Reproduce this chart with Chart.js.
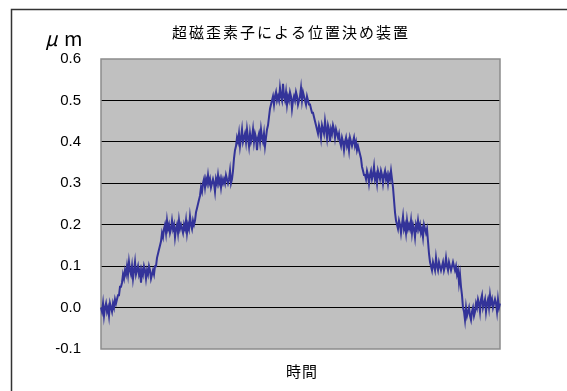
<!DOCTYPE html>
<html lang="ja">
<head>
<meta charset="UTF-8">
<title>超磁歪素子による位置決め装置</title>
<script src="https://cdn.jsdelivr.net/npm/chart.js"></script>
<style>
  html, body { margin: 0; padding: 0; background: #fff; }
  canvas { display: block; }
</style>
</head>
<body>
<canvas id="posChart" width="567" height="391"></canvas>
<script>
    // texts
    const chartTitle = '超磁歪素子による位置決め装置';
    const yUnitMu = 'μ';
    const yUnitM = 'm';
    const xTitle = '時間';
    const yTicks = [-0.1, 0.0, 0.1, 0.2, 0.3, 0.4, 0.5, 0.6];

    const hold0 = [0, -0.01, 0.01, -0.02, 0, 0.01, -0.01, 0, -0.02, 0.01, 0, -0.01, 0.01, 0, 0.02, 0.01];
    const up1 = [0.02, 0.03, 0.03, 0.05, 0.05, 0.06, 0.08, 0.07];
    const hold1 = [0.09, 0.08, 0.10, 0.08, 0.11, 0.09, 0.08, 0.10, 0.07, 0.09, 0.11, 0.08, 0.09, 0.10, 0.08, 0.09,
                   0.06, 0.09, 0.08, 0.10, 0.09, 0.07, 0.09, 0.08, 0.10, 0.09, 0.07, 0.08, 0.09, 0.08, 0.10];
    const up2 = [0.10, 0.12, 0.13, 0.14, 0.15, 0.16, 0.18, 0.17];
    const hold2 = [0.19, 0.20, 0.18, 0.21, 0.19, 0.20, 0.18, 0.19, 0.21, 0.19, 0.20, 0.17, 0.19, 0.20, 0.18, 0.21,
                   0.19, 0.20, 0.19, 0.18, 0.20, 0.19, 0.21, 0.18, 0.20, 0.19, 0.22, 0.20, 0.19, 0.21, 0.20];
    const up3 = [0.21, 0.23, 0.24, 0.25, 0.26, 0.27, 0.29, 0.28];
    const hold3 = [0.30, 0.31, 0.29, 0.31, 0.30, 0.32, 0.30, 0.31, 0.29, 0.30, 0.31, 0.30, 0.28, 0.31, 0.30,
                   0.32, 0.30, 0.31, 0.29, 0.31, 0.30, 0.31, 0.30, 0.32, 0.31, 0.30, 0.31, 0.33, 0.30, 0.31];
    const up4 = [0.33, 0.36, 0.38, 0.39];
    const hold4 = [0.41, 0.40, 0.42, 0.39, 0.41, 0.43, 0.40, 0.41, 0.42, 0.40, 0.43, 0.41, 0.39, 0.42, 0.40, 0.41,
                   0.43, 0.40, 0.42, 0.41, 0.38, 0.41, 0.42, 0.40, 0.43, 0.41, 0.40, 0.42, 0.39, 0.41, 0.43];
    const up5 = [0.44, 0.46, 0.48, 0.49];
    const hold5 = [0.50, 0.51, 0.49, 0.51, 0.52, 0.50, 0.51, 0.50, 0.53, 0.51, 0.50, 0.54, 0.51, 0.50, 0.52,
                   0.49, 0.51, 0.50, 0.52, 0.51, 0.48, 0.50, 0.51, 0.50, 0.52, 0.51, 0.49, 0.50, 0.51, 0.53,
                   0.50, 0.52, 0.51, 0.50, 0.49, 0.51, 0.50, 0.49];
    const down1 = [0.49, 0.48, 0.47, 0.47, 0.46, 0.45, 0.44, 0.43];
    const hold6 = [0.42, 0.44, 0.43, 0.41, 0.44, 0.43, 0.42, 0.45, 0.43, 0.41, 0.44, 0.43, 0.40, 0.43, 0.42,
                   0.44, 0.43, 0.41, 0.43, 0.42, 0.41, 0.42];
    const hold7 = [0.40, 0.39, 0.41, 0.40, 0.38, 0.40, 0.41, 0.39, 0.40, 0.38, 0.41, 0.40, 0.39, 0.40, 0.41,
                   0.39, 0.40, 0.38, 0.39];
    const down2 = [0.38, 0.37, 0.36, 0.34, 0.33, 0.32];
    const hold8 = [0.32, 0.31, 0.33, 0.32, 0.30, 0.32, 0.33, 0.31, 0.32, 0.34, 0.31, 0.32, 0.30, 0.33, 0.32,
                   0.31, 0.33, 0.32, 0.30, 0.32, 0.33, 0.31, 0.32, 0.30, 0.32, 0.31, 0.33, 0.31];
    const down3 = [0.29, 0.26, 0.23, 0.21, 0.20];
    const hold9 = [0.19, 0.21, 0.20, 0.18, 0.20, 0.22, 0.19, 0.20, 0.18, 0.21, 0.19, 0.20, 0.19, 0.21, 0.18,
                   0.20, 0.19, 0.17, 0.20, 0.19, 0.21, 0.19, 0.20, 0.18, 0.19, 0.17, 0.20, 0.19, 0.18, 0.19];
    const down4 = [0.16, 0.13, 0.11];
    const hold10 = [0.10, 0.09, 0.11, 0.10, 0.09, 0.12, 0.10, 0.09, 0.11, 0.10, 0.09, 0.10, 0.11, 0.09, 0.10,
                    0.12, 0.10, 0.09, 0.11, 0.10, 0.09, 0.10, 0.11, 0.10, 0.09, 0.10];
    const down5 = [0.08, 0.09, 0.06, 0.08, 0.05, 0.03, 0.00];
    const hold11 = [-0.01, -0.03, 0.00, -0.02, -0.01, 0.00, -0.02, -0.03, -0.01, 0.00, -0.02, -0.01,
                    0.01, 0.00, 0.02, 0.01, -0.01, 0.02, 0.03, 0.00, 0.01, 0.02, -0.01, 0.01, 0.02,
                    0.00, 0.03, 0.01, 0.02, 0.00, 0.01, 0.02, 0.01, -0.01, 0.02, 0.00, 0.01];

    const position = [].concat(hold0, up1, hold1, up2, hold2, up3, hold3, up4, hold4, up5, hold5,
        down1, hold6, hold7, down2, hold8, down3, hold9, down4, hold10, down5, hold11);
    const samples = position.map((v, i) => i);

    const font = '"Noto Sans CJK JP", "Noto Sans", sans-serif';

    // gray plot area, outer frame and the free texts
    const framePlugin = {
        id: 'framePlugin',
        beforeDraw(chart) {
            const { ctx, chartArea: a } = chart;
            ctx.save();
            ctx.fillStyle = '#ffffff';
            ctx.fillRect(0, 0, chart.width, chart.height);
            ctx.fillStyle = '#c0c0c0';
            ctx.fillRect(a.left, a.top, a.right - a.left, a.bottom - a.top);
            ctx.strokeStyle = '#333333';
            ctx.lineWidth = 1.5;
            ctx.beginPath();
            ctx.moveTo(11.5, chart.height);
            ctx.lineTo(11.5, 9.5);
            ctx.lineTo(chart.width, 9.5);
            ctx.stroke();
            ctx.restore();
        },
        beforeDatasetsDraw(chart) {
            const { ctx, chartArea: a } = chart;
            ctx.save();
            ctx.strokeStyle = '#8c8c8c';
            ctx.lineWidth = 1.5;
            ctx.strokeRect(a.left, a.top, a.right - a.left, a.bottom - a.top);
            ctx.restore();
        },
        afterDraw(chart) {
            const { ctx } = chart;
            ctx.save();
            ctx.fillStyle = '#000';
            ctx.textBaseline = 'middle';
            ctx.textAlign = 'left';

            ctx.font = '15px ' + font;
            ctx.letterSpacing = '2px';
            let w = ctx.measureText(chartTitle).width;
            ctx.fillText(chartTitle, 291 - w / 2, 32);

            ctx.letterSpacing = '0px';
            ctx.font = 'italic 20px ' + font;
            ctx.fillText(yUnitMu, 45, 38);
            ctx.font = '20px ' + font;
            ctx.fillText(yUnitM, 64, 38);

            ctx.font = '15px ' + font;
            ctx.letterSpacing = '1px';
            w = ctx.measureText(xTitle).width;
            ctx.fillText(xTitle, 302 - w / 2, 371);
            ctx.restore();
        }
    };

    new Chart(document.getElementById('posChart'), {
        type: 'line',
        data: {
            labels: samples,
            datasets: [{
                data: position,
                borderColor: '#333399',
                borderWidth: 2,
                pointRadius: 0,
                tension: 0,
                fill: false
            }]
        },
        options: {
            responsive: false,
            animation: false,
            layout: { padding: { left: 12, right: 67, top: 59, bottom: 42 } },
            plugins: {
                legend: { display: false },
                title: { display: false },
                tooltip: { enabled: false }
            },
            scales: {
                x: { display: false },
                y: {
                    min: -0.1,
                    max: 0.6,
                    afterBuildTicks: s => { s.ticks = yTicks.map(v => ({ value: v })); },
                    afterFit: s => { s.width = 89; },
                    border: { display: false },
                    grid: {
                        drawTicks: false,
                        lineWidth: 1,
                        color: c => (c.tick.value > -0.05 && c.tick.value < 0.55) ? '#000000' : 'rgba(0,0,0,0)'
                    },
                    ticks: {
                        padding: 20,
                        color: '#000',
                        font: { family: 'Liberation Sans', size: 15 },
                        callback: v => Number(v).toFixed(1)
                    }
                }
            }
        },
        plugins: [framePlugin]
    });
</script>
</body>
</html>
